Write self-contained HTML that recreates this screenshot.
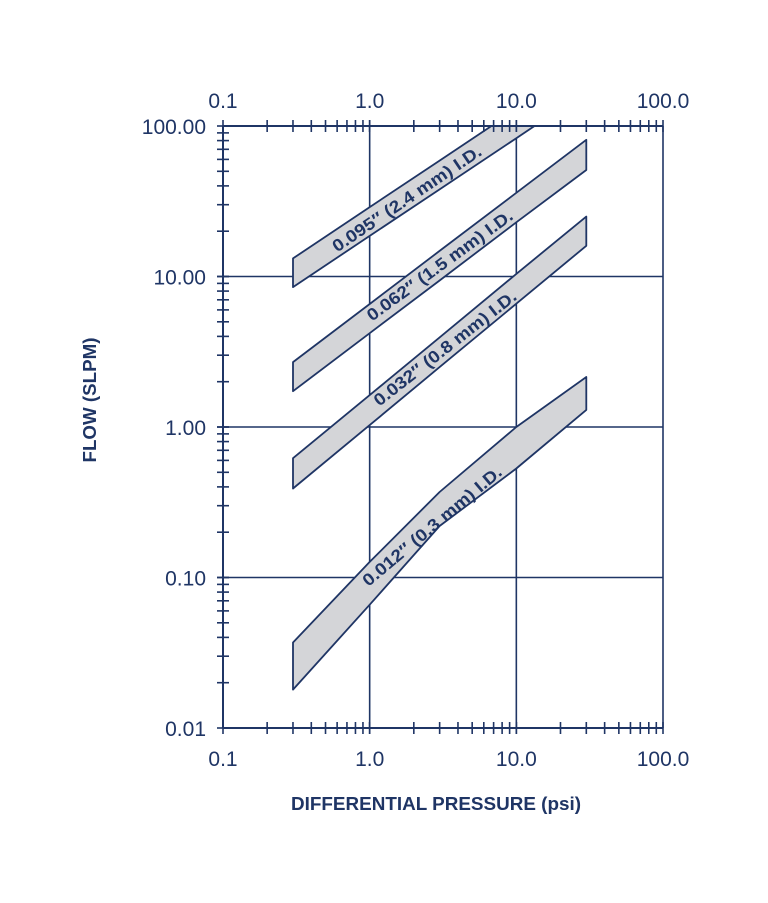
<!DOCTYPE html>
<html><head><meta charset="utf-8"><style>
html,body{margin:0;padding:0;background:#fff}
svg{display:block}
text{font-family:"Liberation Sans",sans-serif;fill:#1f3565}
</style></head><body>
<svg width="768" height="903" viewBox="0 0 768 903">
<g id="chart"></g>
</svg>
<script>
const xTicks=[0.1,1,10,100];
const xTickLabels=["0.1","1.0","10.0","100.0"];
const yTicks=[0.01,0.1,1,10,100];
const yTickLabels=["0.01","0.10","1.00","10.00","100.00"];
const bandNames=["0.095\u2033 (2.4 mm) I.D.","0.062\u2033 (1.5 mm) I.D.","0.032\u2033 (0.8 mm) I.D.","0.012\u2033 (0.3 mm) I.D."];
const bandX=[0.3,1,3,10,30];
const band1Top=[13.2,28.9,58.9,129,264];
const band1Bot=[8.5,18.6,37.9,83,170];
const band2Top=[2.7,6.57,14.8,36,81];
const band2Bot=[1.73,4.2,9.4,22.9,51];
const band3Top=[0.62,1.63,3.94,10.4,25];
const band3Bot=[0.39,1.03,2.5,6.6,16];
const band4Top=[0.037,0.127,0.37,1.0,2.15];
const band4Bot=[0.018,0.066,0.22,0.53,1.3];
const labelPos=[[1.79,33],[3.0,11.9],[3.26,3.35],[2.66,0.22]];
const labelAngle=[-34,-36,-38,-40];

const X0=223,X1=663,Y0=728,Y1=126;
function xs(v){return X0+(Math.log10(v)+1)/3*(X1-X0);}
function ys(v){return Y0-(Math.log10(v)+2)/4*(Y0-Y1);}
const NS="http://www.w3.org/2000/svg";
const g=document.getElementById('chart');
const C="#1f3565";
function mk(t,a,p){const e=document.createElementNS(NS,t);for(const k in a)e.setAttribute(k,a[k]);(p||g).appendChild(e);return e;}

const defs=mk('defs',{});
const cp=mk('clipPath',{id:'plotclip'},defs);
mk('rect',{x:X0,y:Y1,width:X1-X0,height:Y0-Y1},cp);

for(const v of xTicks){const l=mk('line',{x1:xs(v),x2:xs(v),y1:Y1,y2:Y0,stroke:C,'stroke-width':1.6});

}
for(const v of yTicks){const l=mk('line',{x1:X0,x2:X1,y1:ys(v),y2:ys(v),stroke:C,'stroke-width':1.6});

}

const tops=[band1Top,band2Top,band3Top,band4Top],bots=[band1Bot,band2Bot,band3Bot,band4Bot];
const bg=mk('g',{'clip-path':'url(#plotclip)'});
for(let i=0;i<4;i++){
 let pts=[];
 for(let j=0;j<bandX.length;j++)pts.push(xs(bandX[j]).toFixed(1)+','+ys(tops[i][j]).toFixed(1));
 for(let j=bandX.length-1;j>=0;j--)pts.push(xs(bandX[j]).toFixed(1)+','+ys(bots[i][j]).toFixed(1));
 const p=mk('polygon',{points:pts.join(' '),fill:'#d4d5d8',stroke:C,'stroke-width':1.8,'stroke-linejoin':'round'},bg);
 
 
}
for(let i=0;i<4;i++){
 const x=xs(labelPos[i][0]),y=ys(labelPos[i][1]);
 const t=mk('text',{x:0,y:6,'text-anchor':'middle','font-size':17,'font-weight':'bold',textLength:176,lengthAdjust:'spacingAndGlyphs',transform:`translate(${x},${y}) rotate(${labelAngle[i]})`});
 t.textContent=bandNames[i];
 
 
}

mk('line',{x1:X0,x2:X1,y1:Y0,y2:Y0,stroke:C,'stroke-width':2});
mk('line',{x1:X0,x2:X1,y1:Y1,y2:Y1,stroke:C,'stroke-width':2});
mk('line',{x1:X0,x2:X0,y1:Y1,y2:Y0,stroke:C,'stroke-width':2});
for(let d=0;d<3;d++){for(let k=1;k<=10;k++){
 const v=Math.pow(10,d-1)*k;const x=xs(v);
 mk('line',{x1:x,x2:x,y1:Y0-6,y2:Y0+6,stroke:C,'stroke-width':1.6});
 mk('line',{x1:x,x2:x,y1:Y1-6,y2:Y1+6,stroke:C,'stroke-width':1.6});
}}
for(let d=0;d<4;d++){for(let k=1;k<=10;k++){
 const v=Math.pow(10,d-2)*k;const y=ys(v);
 mk('line',{x1:X0-6,x2:X0+6,y1:y,y2:y,stroke:C,'stroke-width':1.6});
}}
xTicks.forEach((v,i)=>{
 const a=mk('text',{x:xs(v),y:766,'text-anchor':'middle','font-size':21});a.textContent=xTickLabels[i];
 
 
 const b=mk('text',{x:xs(v),y:108,'text-anchor':'middle','font-size':21});b.textContent=xTickLabels[i];
 
 
});
yTicks.forEach((v,i)=>{
 const a=mk('text',{x:206,y:ys(v)+8,'text-anchor':'end','font-size':21});a.textContent=yTickLabels[i];
 
 
});
const xt=mk('text',{x:436,y:810,'text-anchor':'middle','font-size':18,'font-weight':'bold',textLength:290,lengthAdjust:'spacingAndGlyphs'});
xt.textContent="DIFFERENTIAL PRESSURE (psi)";


const yt=mk('text',{x:0,y:0,'text-anchor':'middle','font-size':18,'font-weight':'bold',transform:'translate(96,400) rotate(-90)',textLength:125,lengthAdjust:'spacingAndGlyphs'});
yt.textContent="FLOW (SLPM)";


</script>
</body></html>
